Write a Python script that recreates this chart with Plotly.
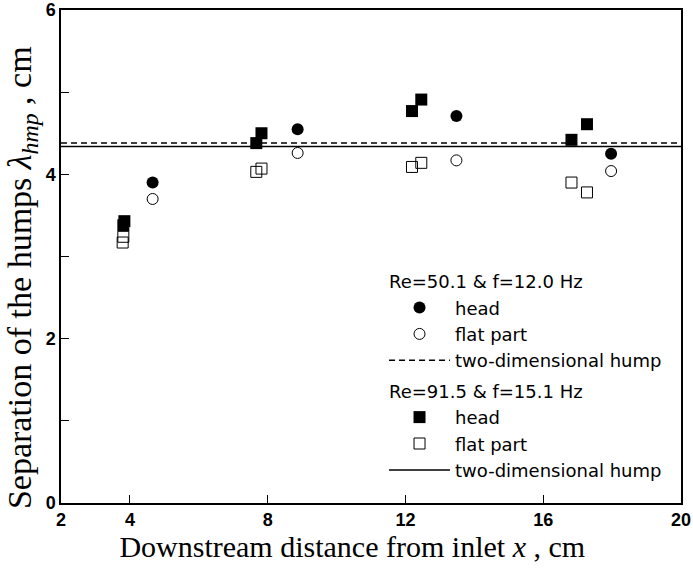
import plotly.graph_objects as go

# --- data ---
# Re=50.1 & f=12.0 Hz (circles)
x_re50 = [4.66, 8.87, 13.48, 17.97]
head_re50 = [3.90, 4.55, 4.71, 4.25]
flat_re50 = [3.70, 4.26, 4.17, 4.04]
hump2d_re50 = 4.38

# Re=91.5 & f=15.1 Hz (squares)
x_re91_head = [3.81, 3.84, 7.67, 7.82, 12.19, 12.46, 16.82, 17.27]
head_re91 = [3.38, 3.43, 4.38, 4.50, 4.77, 4.91, 4.42, 4.61]
x_re91_flat = [3.79, 3.81, 7.67, 7.82, 12.19, 12.46, 16.82, 17.27]
flat_re91 = [3.17, 3.24, 4.03, 4.07, 4.09, 4.14, 3.90, 3.78]
hump2d_re91 = 4.34

x_range = [2, 20]
y_range = [0, 6]
x_ticks = [2, 4, 8, 12, 16, 20]
y_ticks = [0, 2, 4, 6]

fig = go.Figure()

g1 = "Re=50.1 & f=12.0 Hz"
g2 = "Re=91.5 & f=15.1 Hz"

fig.add_trace(go.Scatter(x=x_re50, y=head_re50, mode="markers", name="head",
                         legendgroup="g1", legendgrouptitle=dict(text=g1),
                         marker=dict(symbol="circle", size=12, color="black")))
fig.add_trace(go.Scatter(x=x_re50, y=flat_re50, mode="markers", name="flat part",
                         legendgroup="g1",
                         marker=dict(symbol="circle-open", size=11, color="black",
                                     line=dict(width=1, color="black"))))
fig.add_trace(go.Scatter(x=x_range, y=[hump2d_re50] * 2, mode="lines",
                         name="two-dimensional hump", legendgroup="g1",
                         line=dict(color="black", width=1.5, dash="6px,4px")))

fig.add_trace(go.Scatter(x=x_re91_head, y=head_re91, mode="markers", name="head",
                         legendgroup="g2", legendgrouptitle=dict(text=g2),
                         marker=dict(symbol="square", size=12, color="black")))
fig.add_trace(go.Scatter(x=x_re91_flat, y=flat_re91, mode="markers", name="flat part",
                         legendgroup="g2",
                         marker=dict(symbol="square-open", size=11, color="black",
                                     line=dict(width=1, color="black"))))
fig.add_trace(go.Scatter(x=x_range, y=[hump2d_re91] * 2, mode="lines",
                         name="two-dimensional hump", legendgroup="g2",
                         line=dict(color="black", width=1.5)))

tickfont = dict(family="Liberation Sans, Arial, sans-serif", size=18,
                color="black", weight="bold")
xtitlefont = dict(family="Liberation Serif, Times New Roman, serif", size=30,
                  color="black")
ytitlefont = dict(family="Liberation Serif, Times New Roman, serif", size=34,
                  color="black")
legendfont = dict(family="DejaVu Sans, Liberation Sans, Arial, sans-serif", size=18,
                  color="black")

fig.update_layout(
    template="none",
    width=693, height=571,
    margin=dict(l=61, r=12, t=10, b=68, autoexpand=False),
    paper_bgcolor="white", plot_bgcolor="white",
    showlegend=True,
    legend=dict(x=0.521, y=0.487, xanchor="left", yanchor="top",
                bgcolor="rgba(0,0,0,0)", borderwidth=0,
                font=legendfont, grouptitlefont=legendfont,
                traceorder="grouped", tracegroupgap=4, itemwidth=61),
    xaxis=dict(range=x_range, tickvals=x_ticks, ticktext=[str(v) for v in x_ticks],
               ticks="inside", ticklen=8, tickwidth=1, tickcolor="black",
               showline=True, linecolor="black", linewidth=1.5, mirror=True,
               showgrid=False, zeroline=False, tickfont=tickfont, automargin=False,
               title=dict(text="Downstream distance from inlet <i>x</i> , cm"
                               "&nbsp;&nbsp;&nbsp;&nbsp;&nbsp;",
                          font=xtitlefont, standoff=6)),
    yaxis=dict(range=y_range, tickvals=y_ticks, ticktext=[str(v) for v in y_ticks],
               ticks="inside", ticklen=8, tickwidth=1, tickcolor="black",
               minor=dict(dtick=1, tick0=0, ticks="inside", ticklen=8,
                          tickcolor="black", tickwidth=1, showgrid=False),
               showline=True, linecolor="black", linewidth=1.5, mirror=True,
               showgrid=False, zeroline=False, tickfont=tickfont, automargin=False,
               title=dict(text="Separation of the humps <i>λ<sub>hmp</sub></i> , cm"
                               "&nbsp;&nbsp;&nbsp;&nbsp;&nbsp;",
                          font=ytitlefont, standoff=4)),
)

fig.write_html("out.html")
